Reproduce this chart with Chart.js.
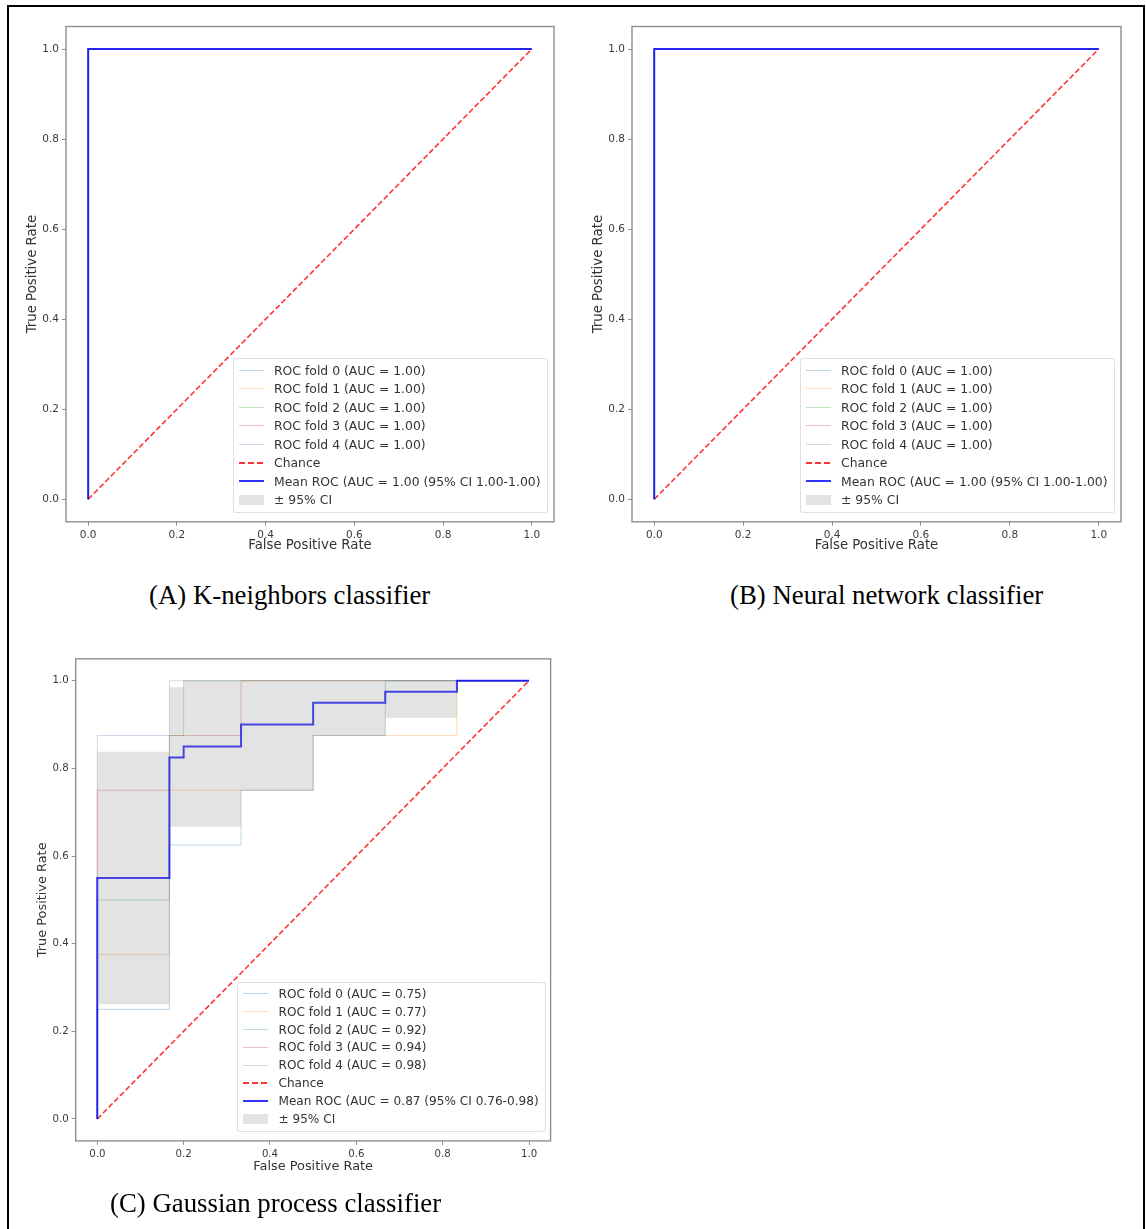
<!DOCTYPE html>
<html><head><meta charset="utf-8">
<script src="https://cdn.jsdelivr.net/npm/chart.js@4.4.1/dist/chart.umd.min.js"></script>
<style>
html,body{margin:0;padding:0;background:#fff;}
body{width:1146px;height:1229px;position:relative;overflow:hidden;font-family:"DejaVu Sans",sans-serif;}
.frame{position:absolute;left:7px;top:5px;width:1138px;height:1240px;border:2px solid #000;box-sizing:border-box;}
.panel{position:absolute;}
.panel canvas{position:absolute;left:0;top:0;}
.legend{position:absolute;background:rgba(255,255,255,0.8);border:1px solid rgba(215,215,215,0.8);border-radius:3px;padding:2px 6px 3px 5px;color:#333;white-space:nowrap;}
.legend .row{display:flex;align-items:center;}
.legend .sw{width:25px;margin-right:10px;flex:none;}
.caption{position:absolute;font-family:"Liberation Serif","Times New Roman",serif;font-size:26.8px;line-height:30px;color:#000;white-space:nowrap;}
</style></head>
<body>
<div class="frame"></div>
<div class="panel" id="pA" style="left:10px;top:10px;width:560px;height:560px;"><canvas id="cA" width="560" height="560"></canvas></div>
<div class="panel" id="pB" style="left:576px;top:10px;width:560px;height:560px;"><canvas id="cB" width="560" height="560"></canvas></div>
<div class="panel" id="pC" style="left:20px;top:640px;width:550px;height:550px;"><canvas id="cC" width="550" height="550"></canvas></div>
<div class="caption" style="left:149px;top:580px;">(A) K-neighbors classifier</div>
<div class="caption" style="left:730px;top:580px;">(B) Neural network classifier</div>
<div class="caption" style="left:110px;top:1188px;">(C) Gaussian process classifier</div>
<script>
// ---- shared ----
const xTicks = [0, 0.2, 0.4, 0.6, 0.8, 1.0];
const yTicks = [0, 0.2, 0.4, 0.6, 0.8, 1.0];
const foldLabels = ['ROC fold 0', 'ROC fold 1', 'ROC fold 2', 'ROC fold 3', 'ROC fold 4'];
const foldColors = ['rgba(31,119,180,0.3)', 'rgba(255,127,14,0.3)', 'rgba(44,160,44,0.3)', 'rgba(214,39,40,0.3)', 'rgba(148,103,189,0.3)'];
const chanceFpr = [0, 1];
const chanceTpr = [0, 1];

// ---- Panel A: K-neighbors ----
const aucA = [1.00, 1.00, 1.00, 1.00, 1.00];
const meanStatsA = [1.00, 1.00, 1.00];          // mean AUC, CI low, CI high
const foldFprA = [[0, 0, 1], [0, 0, 1], [0, 0, 1], [0, 0, 1], [0, 0, 1]];
const foldTprA = [[0, 1, 1], [0, 1, 1], [0, 1, 1], [0, 1, 1], [0, 1, 1]];
const meanFprA = [0, 0, 1];
const meanTprA = [0, 1, 1];
const bandFprA = [0, 1];
const bandUpperA = [1, 1];
const bandLowerA = [1, 1];

// ---- Panel B: Neural network ----
const aucB = [1.00, 1.00, 1.00, 1.00, 1.00];
const meanStatsB = [1.00, 1.00, 1.00];
const foldFprB = [[0, 0, 1], [0, 0, 1], [0, 0, 1], [0, 0, 1], [0, 0, 1]];
const foldTprB = [[0, 1, 1], [0, 1, 1], [0, 1, 1], [0, 1, 1], [0, 1, 1]];
const meanFprB = [0, 0, 1];
const meanTprB = [0, 1, 1];
const bandFprB = [0, 1];
const bandUpperB = [1, 1];
const bandLowerB = [1, 1];

// ---- Panel C: Gaussian process ----
const aucC = [0.75, 0.77, 0.92, 0.94, 0.98];
const meanStatsC = [0.87, 0.76, 0.98];
const foldFprC = [
  [0, 0, 0.167, 0.333, 0.5, 0.667, 1],
  [0, 0, 0.167, 0.5, 0.833, 1],
  [0, 0, 0.167, 0.2, 1],
  [0, 0, 0.167, 0.333, 1],
  [0, 0, 0.167, 1]
];
const foldTprC = [
  [0, 0.25, 0.625, 0.75, 0.875, 1, 1],
  [0, 0.375, 0.75, 0.875, 1, 1],
  [0, 0.5, 0.875, 1, 1],
  [0, 0.75, 0.875, 1, 1],
  [0, 0.875, 1, 1]
];
const meanFprC = [0, 0, 0.167, 0.2, 0.333, 0.5, 0.667, 0.833, 1];
const meanTprC = [0, 0.55, 0.825, 0.85, 0.9, 0.95, 0.975, 1, 1];
const bandFprC = [0, 0.167, 0.2, 0.333, 0.5, 0.667, 0.833, 1];
const bandUpperC = [0.838, 0.985, 1, 1, 1, 1, 1, 1];
const bandLowerC = [0.262, 0.667, 0.667, 0.75, 0.875, 0.915, 1, 1];

// step knots (value holds from x[i] to x[i+1]) -> polyline vertices
function steps(xs, ys) {
  const pts = [{x: xs[0], y: ys[0]}];
  for (let i = 1; i < xs.length; i++) {
    pts.push({x: xs[i], y: ys[i - 1]});
    pts.push({x: xs[i], y: ys[i]});
  }
  return pts;
}
function straight(xs, ys) { return xs.map((x, i) => ({x, y: ys[i]})); }

const framePlugin = {
  id: 'frame',
  afterDatasetsDraw(chart) {
    const {ctx, chartArea: a} = chart;
    ctx.save();
    ctx.strokeStyle = '#8f8f8f';
    ctx.lineWidth = 1.4;
    ctx.strokeRect(a.left, a.top, a.right - a.left, a.bottom - a.top);
    ctx.restore();
  }
};

function makePanel(cfg) {
  const ds = [];
  cfg.foldFpr.forEach((fx, i) => {
    ds.push({label: foldLabels[i], data: steps(fx, cfg.foldTpr[i]),
      borderColor: foldColors[i], borderWidth: 1, pointRadius: 0, fill: false, order: 5});
  });
  ds.push({label: 'Chance', data: straight(chanceFpr, chanceTpr), borderColor: 'rgba(255,0,0,0.8)',
    borderWidth: 1.6, borderDash: [5.5, 2.6], pointRadius: 0, fill: false, order: 4});
  ds.push({label: 'Mean ROC', data: steps(cfg.meanFpr, cfg.meanTpr), borderColor: 'rgba(0,0,255,0.8)',
    borderWidth: 2, pointRadius: 0, fill: false, order: 3});
  const up = steps(cfg.bandFpr, cfg.bandUpper);
  const lo = steps(cfg.bandFpr, cfg.bandLower).reverse();
  ds.push({label: '± 95% CI', data: up.concat(lo), borderWidth: 0, pointRadius: 0,
    backgroundColor: 'rgba(128,128,128,0.22)', fill: 'shape', order: 1});

  const k = cfg.fontScale;
  const tickFont = {family: 'DejaVu Sans', size: 10.5 * k};
  const titleFont = {family: 'DejaVu Sans', size: 13.3 * k};
  const chart = new Chart(document.getElementById(cfg.canvas), {
    type: 'line',
    data: {datasets: ds},
    plugins: [framePlugin],
    options: {
      responsive: false, animation: false, events: [],
      layout: {padding: {top: cfg.padTop, right: cfg.padRight, left: 0, bottom: 0}},
      plugins: {legend: {display: false}, tooltip: {enabled: false}},
      scales: {
        x: {
          type: 'linear', min: -0.05, max: 1.05,
          afterBuildTicks: (ax) => { ax.ticks = xTicks.map(v => ({value: v})); },
          afterFit: (ax) => { ax.height = cfg.xAxisH; },
          ticks: {callback: v => Number(v).toFixed(1), font: tickFont, color: '#3a3a3a', padding: 3, maxRotation: 0},
          grid: {drawOnChartArea: false, drawTicks: true, tickLength: 4, color: '#8f8f8f'},
          border: {display: false},
          title: {display: true, text: 'False Positive Rate', font: titleFont, color: '#333', padding: {top: 0, bottom: cfg.xTitlePad}}
        },
        y: {
          type: 'linear', min: -0.05, max: 1.05,
          afterBuildTicks: (ax) => { ax.ticks = yTicks.map(v => ({value: v})); },
          afterFit: (ax) => { ax.width = cfg.yAxisW; },
          ticks: {callback: v => Number(v).toFixed(1), font: tickFont, color: '#3a3a3a', padding: 3},
          grid: {drawOnChartArea: false, drawTicks: true, tickLength: 4, color: '#8f8f8f'},
          border: {display: false},
          title: {display: true, text: 'True Positive Rate', font: titleFont, color: '#333', padding: {top: cfg.yTitlePad, bottom: 0}}
        }
      }
    }
  });

  // legend (HTML), anchored to lower-right of the chart area
  const panel = document.getElementById(cfg.panel);
  const lg = document.createElement('div');
  lg.className = 'legend';
  lg.style.fontSize = cfg.lgFont + 'px';
  const rows = [];
  cfg.auc.forEach((a, i) => rows.push({text: foldLabels[i] + ' (AUC = ' + a.toFixed(2) + ')',
    sw: 'height:0;border-top:1.5px solid ' + foldColors[i] + ';'}));
  rows.push({text: 'Chance', sw: 'height:2px;background:repeating-linear-gradient(90deg,rgba(255,0,0,0.8) 0 6px,transparent 6px 9px);'});
  rows.push({text: 'Mean ROC (AUC = ' + cfg.stats[0].toFixed(2) + ' (95% CI ' + cfg.stats[1].toFixed(2) + '-' + cfg.stats[2].toFixed(2) + ')',
    sw: 'height:2px;background:rgba(0,0,255,0.8);'});
  rows.push({text: '± 95% CI', sw: 'height:10px;background:rgba(128,128,128,0.22);'});
  rows.forEach(r => {
    const row = document.createElement('div');
    row.className = 'row';
    row.style.height = cfg.lgRow + 'px';
    const s = document.createElement('span');
    s.className = 'sw';
    s.style.cssText = r.sw;
    const t = document.createElement('span');
    t.textContent = r.text;
    row.appendChild(s); row.appendChild(t);
    lg.appendChild(row);
  });
  panel.appendChild(lg);
  const ca = chart.chartArea;
  lg.style.right = (cfg.w - ca.right + cfg.lgRight) + 'px';
  lg.style.bottom = (cfg.h - ca.bottom + cfg.lgBottom) + 'px';
  return chart;
}

makePanel({canvas: 'cA', panel: 'pA', w: 560, h: 560, padTop: 16.5, padRight: 16, yAxisW: 56, xAxisH: 48.2,
  yTitlePad: 14.2, xTitlePad: 16.2, lgRight: 6.5, lgBottom: 9, lgFont: 12.4, lgRow: 18.5, fontScale: 1,
  foldFpr: foldFprA, foldTpr: foldTprA, meanFpr: meanFprA, meanTpr: meanTprA,
  bandFpr: bandFprA, bandUpper: bandUpperA, bandLower: bandLowerA, auc: aucA, stats: meanStatsA});
makePanel({canvas: 'cB', panel: 'pB', w: 560, h: 560, padTop: 16.5, padRight: 15, yAxisW: 56, xAxisH: 48.2,
  yTitlePad: 14.2, xTitlePad: 16.2, lgRight: 6.5, lgBottom: 9, lgFont: 12.4, lgRow: 18.5, fontScale: 1,
  foldFpr: foldFprB, foldTpr: foldTprB, meanFpr: meanFprB, meanTpr: meanTprB,
  bandFpr: bandFprB, bandUpper: bandUpperB, bandLower: bandLowerB, auc: aucB, stats: meanStatsB});
makePanel({canvas: 'cC', panel: 'pC', w: 550, h: 550, padTop: 18.8, padRight: 19.4, yAxisW: 55.7, xAxisH: 49.1,
  yTitlePad: 14.7, xTitlePad: 15.2, lgRight: 5, lgBottom: 9, lgFont: 12.1, lgRow: 17.9, fontScale: 0.97,
  foldFpr: foldFprC, foldTpr: foldTprC, meanFpr: meanFprC, meanTpr: meanTprC,
  bandFpr: bandFprC, bandUpper: bandUpperC, bandLower: bandLowerC, auc: aucC, stats: meanStatsC});
</script>
</body></html>
